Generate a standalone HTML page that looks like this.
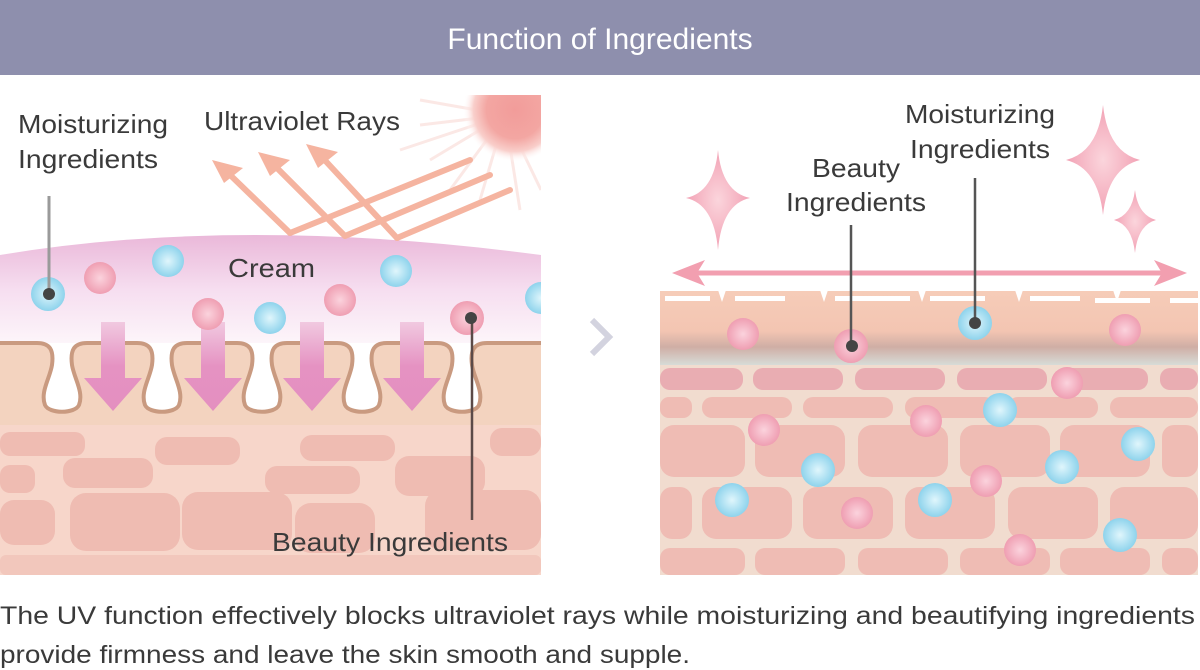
<!DOCTYPE html>
<html><head><meta charset="utf-8"><style>
html,body{margin:0;padding:0;background:#fff;width:1200px;height:670px;overflow:hidden}
svg text{font-family:"Liberation Sans",sans-serif;fill:#3a3a3a}
</style></head><body>
<svg width="1200" height="670" viewBox="0 0 1200 670" xmlns="http://www.w3.org/2000/svg">
<defs>
<clipPath id="lp"><rect x="0" y="95" width="541" height="480"/></clipPath>
<linearGradient id="cream" x1="0" y1="0" x2="0" y2="1">
<stop offset="0" stop-color="#eab8d9"/><stop offset="0.5" stop-color="#f6def0"/><stop offset="1" stop-color="#fdf6fa"/></linearGradient>
<linearGradient id="arr" x1="0" y1="0" x2="0" y2="1">
<stop offset="0" stop-color="#f1c9e0"/><stop offset="0.5" stop-color="#e592c2"/><stop offset="1" stop-color="#e48fc0"/></linearGradient>
<radialGradient id="pk"><stop offset="0" stop-color="#fbd3dd"/><stop offset="1" stop-color="#ef9eb2"/></radialGradient>
<radialGradient id="bl"><stop offset="0" stop-color="#e0f6fc"/><stop offset="1" stop-color="#8ed3ec"/></radialGradient>
<radialGradient id="sun"><stop offset="0" stop-color="#f29c9a"/><stop offset="0.55" stop-color="#f3a6a2"/><stop offset="0.8" stop-color="#f9cfcb"/><stop offset="1" stop-color="#fff" stop-opacity="0"/></radialGradient>
<radialGradient id="star"><stop offset="0" stop-color="#fbd5dc"/><stop offset="1" stop-color="#f2a2b5"/></radialGradient>
<linearGradient id="rskin" x1="0" y1="0" x2="0" y2="1">
<stop offset="0" stop-color="#f6cdb9"/><stop offset="0.55" stop-color="#f3c5b2"/><stop offset="0.75" stop-color="#cfaea5"/><stop offset="1" stop-color="#d8e1dd"/></linearGradient>
</defs>

<rect x="0" y="0" width="1200" height="75" fill="#8e8fad"/>
<text x="600" y="49" text-anchor="middle" font-size="30" style="fill:#fff">Function of Ingredients</text>

<g clip-path="url(#lp)">
<rect x="0" y="95" width="541" height="480" fill="#fff"/>
<g stroke="#fbe3df" stroke-width="3" opacity="0.8">
<line x1="505" y1="115" x2="420" y2="100"/><line x1="505" y1="115" x2="420" y2="125"/>
<line x1="505" y1="115" x2="430" y2="160"/><line x1="505" y1="115" x2="450" y2="190"/>
<line x1="505" y1="115" x2="480" y2="200"/><line x1="505" y1="115" x2="520" y2="210"/>
<line x1="505" y1="115" x2="400" y2="150"/><line x1="505" y1="115" x2="541" y2="190"/>
</g>
<circle cx="515" cy="110" r="52" fill="url(#sun)"/>
<path d="M0,255 Q240,215 541,255 L541,345 L0,345 Z" fill="url(#cream)"/>
<g stroke="#f5b4a0" stroke-width="6" fill="none" stroke-linecap="round">
<path d="M290,233 L225,170 M345,236 L272,163 M397,238 L320,155"/>
<path d="M290,233 L470,160 M345,236 L490,175 M397,238 L510,190"/>
</g>
<g fill="#f5b4a0">
<polygon points="212,160 243,168 224,183"/>
<polygon points="258,152 290,160 270,176"/>
<polygon points="306,144 338,152 318,168"/>
</g>
<rect x="0" y="343" width="541" height="85" fill="#f3d3bf"/>
<rect x="0" y="425" width="541" height="150" fill="#f7d6ca"/>
<g fill="#efbcb2">
<rect x="0" y="432" width="85" height="24" rx="10"/>
<rect x="155" y="437" width="85" height="28" rx="12"/>
<rect x="300" y="435" width="95" height="26" rx="12"/>
<rect x="490" y="428" width="51" height="28" rx="12"/>
<rect x="0" y="465" width="35" height="28" rx="10"/>
<rect x="63" y="458" width="90" height="30" rx="12"/>
<rect x="265" y="466" width="95" height="28" rx="12"/>
<rect x="395" y="456" width="90" height="40" rx="14"/>
<rect x="0" y="500" width="55" height="45" rx="14"/>
<rect x="70" y="493" width="110" height="58" rx="16"/>
<rect x="182" y="492" width="110" height="58" rx="16"/>
<rect x="295" y="503" width="80" height="50" rx="16"/>
<rect x="425" y="490" width="116" height="60" rx="16"/>
<rect x="0" y="555" width="541" height="20" rx="6" opacity="0.6"/>
</g>
<path d="M0,343 L37,343 C50,343 54,350 52,365 C50,378 40,392 45,405 C49,414 75,414 79,405 C84,392 74,378 72,365 C70,350 74,343 87,343
L137,343 C150,343 154,350 152,365 C150,378 140,392 145,405 C149,414 175,414 179,405 C184,392 174,378 172,365 C170,350 174,343 187,343
L237,343 C250,343 254,350 252,365 C250,378 240,392 245,405 C249,414 275,414 279,405 C284,392 274,378 272,365 C270,350 274,343 287,343
L337,343 C350,343 354,350 352,365 C350,378 340,392 345,405 C349,414 375,414 379,405 C384,392 374,378 372,365 C370,350 374,343 387,343
L437,343 C450,343 454,350 452,365 C450,378 440,392 445,405 C449,414 475,414 479,405 C484,392 474,378 472,365 C470,350 474,343 487,343 L541,343"
fill="#fff" stroke="#c99a80" stroke-width="4"/>
<g fill="url(#arr)">
<path d="M101,322 h24 v56 h17 l-29,33 l-29,-33 h17z"/>
<path d="M201,322 h24 v56 h17 l-29,33 l-29,-33 h17z"/>
<path d="M300,322 h24 v56 h17 l-29,33 l-29,-33 h17z"/>
<path d="M400,322 h24 v56 h17 l-29,33 l-29,-33 h17z"/>
</g>
<circle cx="48" cy="294" r="17" fill="url(#bl)"/>
<circle cx="100" cy="278" r="16" fill="url(#pk)"/>
<circle cx="168" cy="261" r="16" fill="url(#bl)"/>
<circle cx="208" cy="314" r="16" fill="url(#pk)"/>
<circle cx="270" cy="318" r="16" fill="url(#bl)"/>
<circle cx="340" cy="300" r="16" fill="url(#pk)"/>
<circle cx="396" cy="271" r="16" fill="url(#bl)"/>
<circle cx="467" cy="318" r="17" fill="url(#pk)"/>
<circle cx="541" cy="298" r="16" fill="url(#bl)"/>
<line x1="49" y1="196" x2="49" y2="294" stroke="#9a9a9a" stroke-width="3"/>
<circle cx="49" cy="294" r="6" fill="#444"/>
<line x1="472" y1="318" x2="472" y2="520" stroke="#5b4a48" stroke-width="2.5"/>
<circle cx="471" cy="318" r="6" fill="#444"/>
<text x="18" y="133" font-size="26" textLength="150" lengthAdjust="spacingAndGlyphs">Moisturizing</text>
<text x="18" y="168" font-size="26" textLength="140" lengthAdjust="spacingAndGlyphs">Ingredients</text>
<text x="204" y="130" font-size="26" textLength="196" lengthAdjust="spacingAndGlyphs">Ultraviolet Rays</text>
<text x="228" y="277" font-size="26" textLength="87" lengthAdjust="spacingAndGlyphs">Cream</text>
<text x="272" y="551" font-size="26" textLength="236" lengthAdjust="spacingAndGlyphs">Beauty Ingredients</text>
</g>

<polyline points="592,320 609,337 592,354" fill="none" stroke="#d3d3df" stroke-width="6"/>

<g>
<path d="M718,150 Q722,192 750,198 Q722,204 718,250 Q714,204 686,198 Q714,192 718,150Z" fill="url(#star)"/>
<path d="M1103,105 Q1108,152 1140,160 Q1108,168 1103,215 Q1098,168 1066,160 Q1098,152 1103,105Z" fill="url(#star)"/>
<path d="M1135,190 Q1138,215 1156,220 Q1138,225 1135,253 Q1132,225 1114,220 Q1132,215 1135,190Z" fill="url(#star)"/>
<line x1="680" y1="273" x2="1178" y2="273" stroke="#f29fb0" stroke-width="5"/>
<path d="M672,273 L705,260 L697,273 L705,286Z M1187,273 L1154,260 L1162,273 L1154,286Z" fill="#f29fb0"/>
<rect x="660" y="287" width="538" height="80" fill="url(#rskin)"/>
<rect x="660" y="365" width="538" height="210" fill="#f1dccf"/>
<g fill="#fff">
<rect x="665" y="296" width="45" height="5"/><rect x="735" y="296" width="50" height="5"/>
<rect x="835" y="296" width="75" height="5"/><rect x="930" y="296" width="55" height="5"/>
<rect x="1030" y="296" width="50" height="5"/><rect x="1095" y="298" width="55" height="5"/>
<rect x="1170" y="298" width="28" height="5"/>
<path d="M660,286 L1198,286 L1198,291 L660,291Z"/>
<path d="M718,290 l4,12 l4,-12z M820,290 l4,12 l4,-12z M918,290 l4,12 l4,-12z M1015,290 l4,12 l4,-12z M1113,290 l4,12 l4,-12z"/>
</g>
<g fill="#e9adb2">
<rect x="660" y="368" width="83" height="22" rx="10"/><rect x="753" y="368" width="90" height="22" rx="10"/>
<rect x="855" y="368" width="90" height="22" rx="10"/><rect x="957" y="368" width="90" height="22" rx="10"/>
<rect x="1058" y="368" width="90" height="22" rx="10"/><rect x="1160" y="368" width="38" height="22" rx="10"/>
</g>
<g fill="#efbcb4">
<rect x="660" y="397" width="32" height="21" rx="9"/><rect x="702" y="397" width="90" height="21" rx="10"/>
<rect x="803" y="397" width="90" height="21" rx="10"/><rect x="905" y="397" width="90" height="21" rx="10"/>
<rect x="1008" y="397" width="90" height="21" rx="10"/><rect x="1110" y="397" width="88" height="21" rx="10"/>
<rect x="660" y="425" width="85" height="52" rx="14"/><rect x="755" y="425" width="90" height="52" rx="14"/>
<rect x="858" y="425" width="90" height="52" rx="14"/><rect x="960" y="425" width="90" height="52" rx="14"/>
<rect x="1060" y="425" width="90" height="52" rx="14"/><rect x="1162" y="425" width="36" height="52" rx="12"/>
<rect x="660" y="487" width="32" height="52" rx="12"/><rect x="702" y="487" width="90" height="52" rx="14"/>
<rect x="803" y="487" width="90" height="52" rx="14"/><rect x="905" y="487" width="90" height="52" rx="14"/>
<rect x="1008" y="487" width="90" height="52" rx="14"/><rect x="1110" y="487" width="88" height="52" rx="14"/>
<rect x="660" y="548" width="85" height="27" rx="10"/><rect x="755" y="548" width="90" height="27" rx="10"/>
<rect x="858" y="548" width="90" height="27" rx="10"/><rect x="960" y="548" width="90" height="27" rx="10"/>
<rect x="1060" y="548" width="90" height="27" rx="10"/><rect x="1162" y="548" width="36" height="27" rx="10"/>
</g>
<g>
<circle cx="743" cy="334" r="16" fill="url(#pk)"/>
<circle cx="851" cy="346" r="17" fill="url(#pk)"/>
<circle cx="975" cy="323" r="17" fill="url(#bl)"/>
<circle cx="1125" cy="330" r="16" fill="url(#pk)"/>
<circle cx="1067" cy="383" r="16" fill="url(#pk)"/>
<circle cx="1000" cy="410" r="17" fill="url(#bl)"/>
<circle cx="764" cy="430" r="16" fill="url(#pk)"/>
<circle cx="926" cy="421" r="16" fill="url(#pk)"/>
<circle cx="1138" cy="444" r="17" fill="url(#bl)"/>
<circle cx="818" cy="470" r="17" fill="url(#bl)"/>
<circle cx="986" cy="481" r="16" fill="url(#pk)"/>
<circle cx="1062" cy="467" r="17" fill="url(#bl)"/>
<circle cx="732" cy="500" r="17" fill="url(#bl)"/>
<circle cx="935" cy="500" r="17" fill="url(#bl)"/>
<circle cx="857" cy="513" r="16" fill="url(#pk)"/>
<circle cx="1120" cy="535" r="17" fill="url(#bl)"/>
<circle cx="1020" cy="550" r="16" fill="url(#pk)"/>
</g>
<line x1="851" y1="225" x2="851" y2="346" stroke="#555" stroke-width="2.5"/>
<circle cx="852" cy="346" r="6" fill="#444"/>
<line x1="975" y1="178" x2="975" y2="323" stroke="#555" stroke-width="2.5"/>
<circle cx="975" cy="323" r="6" fill="#444"/>
<text x="905" y="123" font-size="26" textLength="150" lengthAdjust="spacingAndGlyphs">Moisturizing</text>
<text x="910" y="158" font-size="26" textLength="140" lengthAdjust="spacingAndGlyphs">Ingredients</text>
<text x="812" y="177" font-size="26" textLength="88" lengthAdjust="spacingAndGlyphs">Beauty</text>
<text x="786" y="211" font-size="26" textLength="140" lengthAdjust="spacingAndGlyphs">Ingredients</text>
</g>

<text x="0" y="624" font-size="25" textLength="1195" lengthAdjust="spacingAndGlyphs">The UV function effectively blocks ultraviolet rays while moisturizing and beautifying ingredients</text>
<text x="0" y="663" font-size="25" textLength="690" lengthAdjust="spacingAndGlyphs">provide firmness and leave the skin smooth and supple.</text>
</svg>
</body></html>
